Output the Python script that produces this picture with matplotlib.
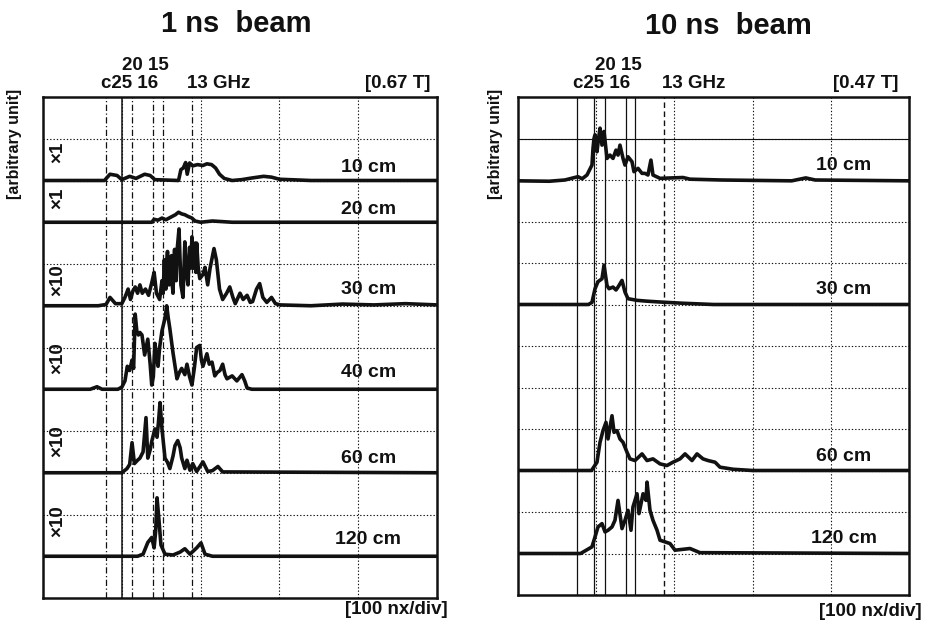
import matplotlib
matplotlib.use("Agg")
import matplotlib.pyplot as plt
import matplotlib.transforms as mtransforms

plt.rcParams['font.family'] = ['Liberation Sans', 'DejaVu Sans']
plt.rcParams['font.weight'] = 'bold'

# ---------------- data (time in ns, amplitude in divisions) ----------------
panel_titles = ["1 ns  beam", "10 ns  beam"]
field_labels = ["[0.67 T]", "[0.47 T]"]
x_unit_label = "[100 nx/div]"
y_unit_label = "[arbitrary unit]"
freq_upper = "20 15"
freq_lower = "c25 16"
freq_13 = "13 GHz"

left_distances = ["10 cm", "20 cm", "30 cm", "40 cm", "60 cm", "120 cm"]
left_gains = ["×1", "×1", "×10", "×10", "×10", "×10"]
left_baseline_div = [10, 9, 7, 5, 3, 1]

right_distances = ["10 cm", "30 cm", "60 cm", "120 cm"]
right_baseline_div = [10, 7, 3, 1]

# cut-off markers (c, 25, 20, 16, 15, 13 GHz) in ns
left_markers = [80, 100, 113, 140, 152, 189]
right_markers = [75.4, 97.2, 111.3, 138.1, 149.6, 186.7]

L10_t = [0, 78, 85, 94, 100, 110, 118, 129, 136, 142, 172, 175, 178, 181, 183, 186, 190, 196, 203, 208, 214, 219, 224, 230, 240, 252, 265, 280, 290, 300, 340, 500]
L10_a = [0, 0, 0.15, 0.12, 0.02, 0.1, 0.05, 0.15, 0.12, 0.02, 0.0, 0.26, 0.3, 0.43, 0.15, 0.42, 0.35, 0.38, 0.36, 0.4, 0.38, 0.3, 0.15, 0.05, 0.0, 0.02, 0.06, 0.1, 0.08, 0.03, 0, 0]

L20_t = [0, 138, 141, 146, 151, 156, 162, 168, 172, 176, 180, 184, 189, 193, 200, 215, 240, 500]
L20_a = [0, 0, 0.07, 0.05, 0.1, 0.06, 0.12, 0.18, 0.24, 0.2, 0.18, 0.14, 0.1, 0.03, 0, 0.03, 0, 0]

L30_t = [0, 70, 80, 85, 92, 100, 104, 108, 111, 114, 117, 120, 123, 126, 130, 134, 138, 141, 144, 148, 151, 152.5, 154, 155, 156, 157, 158, 159, 160, 161.5, 163, 164, 165, 166, 167, 168, 169, 170, 171, 172.6, 175, 177.7, 180, 182, 184, 186, 187.5, 189, 190, 191, 192, 193, 194, 195, 196, 197, 199, 203, 205.6, 209, 212, 217, 220, 224, 228, 233, 237, 241, 244, 250, 254, 259, 263, 266, 271, 275, 279, 284, 290, 295, 301, 340, 380, 420, 460, 500]
L30_a = [0, 0, 0.03, 0.2, 0.05, 0.05, 0.2, 0.4, 0.15, 0.35, 0.45, 0.3, 0.5, 0.3, 0.4, 0.25, 0.55, 0.8, 0.3, 0.15, 0.6, 0.3, 1.1, 0.5, 0.4, 1.0, 1.3, 0.6, 0.5, 1.1, 1.2, 0.5, 0.3, 1.0, 1.35, 0.7, 0.6, 1.3, 1.5, 1.84, 0.5, 0.2, 1.53, 0.8, 0.5, 1.4, 0.9, 1.65, 1.0, 0.9, 1.4, 1.5, 0.8, 1.5, 1.2, 0.9, 0.65, 0.75, 0.92, 0.5, 0.9, 1.37, 1.1, 0.4, 0.15, 0.3, 0.45, 0.2, 0.05, 0.3, 0.15, 0.25, 0.08, 0.1, 0.4, 0.53, 0.2, 0.08, 0.2, 0.05, 0.02, 0, 0.04, 0.02, 0.05, 0.02]

L40_t = [0, 60, 68.5, 75, 95, 100, 104, 107, 110, 113, 115, 117, 119, 121, 123, 125.6, 129, 133, 136, 138, 140, 142, 144, 146, 148, 151, 154.8, 157, 159, 161, 165, 168, 170, 173, 176, 180, 182.7, 186, 189, 192, 195, 199, 201, 203, 208, 211, 214.5, 218, 221, 224.6, 228, 231, 233.5, 240, 246, 252.5, 256, 259, 265, 500]
L40_a = [0, 0, 0.06, 0, 0, 0.05, 0.2, 0.55, 0.45, 0.7, 0.5, 1.8, 1.4, 1.3, 1.36, 1.3, 0.82, 1.2, 0.6, 0.1, 0.3, 1.1, 0.8, 0.55, 1.0, 1.4, 1.7, 2.0, 1.7, 1.45, 0.87, 0.5, 0.25, 0.4, 0.5, 0.35, 0.6, 0.3, 0.1, 0.5, 1.0, 1.05, 0.7, 0.55, 0.85, 0.6, 0.65, 0.32, 0.4, 0.45, 0.6, 0.35, 0.25, 0.32, 0.2, 0.35, 0.2, 0.03, 0, 0]

L60_t = [0, 100, 106.6, 110, 113, 116, 120, 123, 127, 130.7, 133, 136, 138, 142, 144.7, 146.5, 148.5, 151, 154.8, 158, 161, 165, 167.5, 171, 174, 176, 180, 182.7, 186.5, 190, 195, 203, 209, 215, 222, 228, 500]
L60_a = [0, 0, 0.1, 0.2, 0.72, 0.22, 0.3, 0.35, 0.5, 1.32, 0.35, 0.55, 0.75, 1.05, 0.85, 1.2, 1.68, 1.05, 0.35, 0.25, 0.1, 0.4, 0.65, 0.77, 0.6, 0.35, 0.1, 0.3, 0.06, 0.22, 0.03, 0.26, 0.03, 0.05, 0.15, 0.02, 0]

L120_t = [0, 120, 127, 133, 138, 141, 143, 144.7, 147, 149.7, 154.8, 165, 174, 180, 186.5, 195, 200.5, 205.6, 215, 500]
L120_a = [0, 0, 0.05, 0.33, 0.45, 0.2, 0.6, 1.4, 0.9, 0.27, 0.05, 0.03, 0.1, 0.18, 0.05, 0.2, 0.32, 0.05, 0, 0]

R10_t = [0, 40, 60, 76.7, 82, 88.2, 94.6, 95.9, 97.2, 98.5, 101, 103, 104.9, 107.4, 110, 113.8, 117.6, 121.5, 125.3, 127.9, 130.4, 134.3, 136.8, 140.7, 145.8, 148.3, 153.5, 158.6, 162.4, 166.2, 170, 172.6, 181.6, 211, 220, 260, 350, 368, 380, 500]
R10_a = [-0.02, -0.03, 0, 0.08, 0.03, 0.12, 0.36, 0.76, 1.0, 1.09, 0.68, 1.0, 1.25, 0.84, 1.17, 0.52, 0.6, 0.52, 0.72, 0.6, 0.84, 0.52, 0.36, 0.56, 0.44, 0.2, 0.28, 0.16, 0.16, 0.12, 0.48, 0.12, 0.04, 0.06, 0.02, 0, -0.02, 0.05, 0, -0.02]

R30_t = [0, 90, 94.6, 98.5, 102.3, 107.4, 110, 113.8, 116.4, 121.5, 125.3, 127.9, 133, 136.8, 140.7, 152.2, 165, 181.6, 211, 250, 500]
R30_a = [0, 0, 0.05, 0.38, 0.55, 0.62, 0.95, 0.46, 0.38, 0.42, 0.35, 0.42, 0.58, 0.3, 0.14, 0.1, 0.08, 0.06, 0.03, 0, 0]

R60_t = [0, 94, 101, 104.9, 108.7, 112.5, 115.1, 120.2, 122.8, 126.6, 130.4, 134.3, 139.4, 143.2, 149.6, 158.6, 165, 172.6, 181.6, 190.5, 198.2, 207.2, 213.6, 222.5, 228.9, 236.6, 243, 252, 258.3, 275, 300, 500]
R60_a = [0, 0, 0.2, 0.68, 0.96, 1.16, 0.76, 1.32, 0.92, 0.96, 0.76, 0.68, 0.44, 0.28, 0.24, 0.4, 0.24, 0.28, 0.16, 0.12, 0.2, 0.28, 0.4, 0.24, 0.4, 0.28, 0.24, 0.2, 0.08, 0.03, 0, 0]

R120_t = [0, 80, 94.6, 98.5, 102.3, 107.4, 111.3, 115.1, 120.2, 124, 127.9, 133, 136.8, 140.7, 144.5, 147, 152.2, 154.7, 159.9, 163.7, 165, 168.8, 172.6, 177.8, 181.6, 188, 194.4, 200.8, 220, 232.7, 500]
R120_a = [0, 0, 0.16, 0.4, 0.64, 0.72, 0.52, 0.56, 0.64, 0.8, 1.28, 0.6, 0.8, 1.04, 0.56, 1.12, 1.44, 0.96, 1.44, 1.28, 1.72, 1.04, 0.8, 0.56, 0.32, 0.28, 0.24, 0.08, 0.12, 0.02, 0]

left_traces = [(L10_t, L10_a), (L20_t, L20_a), (L30_t, L30_a), (L40_t, L40_a), (L60_t, L60_a), (L120_t, L120_a)]
right_traces = [(R10_t, R10_a), (R30_t, R30_a), (R60_t, R60_a), (R120_t, R120_a)]

# ---------------- figure ----------------
W, H = 929, 624
fig = plt.figure(figsize=(W / 100, H / 100), dpi=100)
fig.patch.set_facecolor("white")

axL = fig.add_axes([43 / W, 1 - 598 / H, 394 / W, 501 / H])
axR = fig.add_axes([518 / W, 1 - 595 / H, 391 / W, 498 / H])

INK = "#111111"
grid_style = dict(color=INK, lw=0.8, ls=(0, (1.2, 1.8)), zorder=1)


def setup(ax):
    ax.set_xlim(0, 500)
    ax.set_ylim(0, 12)
    ax.set_xticks([])
    ax.set_yticks([])
    for s in ax.spines.values():
        s.set_linewidth(1.8)
        s.set_color(INK)
    for xv in range(100, 500, 100):
        ax.axvline(xv, **grid_style)
    for yv in range(1, 12):
        ax.axhline(yv, **grid_style)


setup(axL)
setup(axR)

# marker lines
for i, m in enumerate(left_markers):
    if i == 1:
        axL.axvline(m, color=INK, lw=1.1, zorder=2)
    else:
        axL.axvline(m, color=INK, lw=0.9, ls=(0, (5, 2, 1, 2)), zorder=2)
for i, m in enumerate(right_markers):
    if i == 5:
        axR.axvline(m, color=INK, lw=1.0, ls=(0, (4, 2.5)), zorder=2)
    else:
        axR.axvline(m, color=INK, lw=0.9, zorder=2)
axR.axhline(11, color=INK, lw=0.8, zorder=2)

# traces
for (t, a), b in zip(left_traces, left_baseline_div):
    axL.plot(t, [b + v for v in a], color=INK, lw=2.6, zorder=3,
             solid_joinstyle="round")
for (t, a), b in zip(right_traces, right_baseline_div):
    axR.plot(t, [b + v for v in a], color=INK, lw=2.6, zorder=3,
             solid_joinstyle="round")

# distance labels
left_lab_y = [10.32, 9.31, 7.38, 5.41, 3.35, 1.39]
for lab, yv in zip(left_distances, left_lab_y):
    axL.text(413, yv, lab, ha="center", va="center", fontsize=14, color=INK, zorder=4)
right_lab_y = [10.36, 7.35, 3.33, 1.37]
for lab, yv in zip(right_distances, right_lab_y):
    axR.text(417, yv, lab, ha="center", va="center", fontsize=14, color=INK, zorder=4)

# gain labels
gain_y = [10.68, 9.58, 7.62, 5.75, 3.76, 1.84]
for lab, yv in zip(left_gains, gain_y):
    axL.text(19, yv, lab, ha="center", va="center", rotation=90, fontsize=13.5, color=INK, zorder=4)

# titles
fig.text(236 / W, 1 - 24 / H, panel_titles[0], ha="center", va="center", fontsize=21, color=INK)
fig.text(728 / W, 1 - 26.5 / H, panel_titles[1], ha="center", va="center", fontsize=21, color=INK)


# frequency labels above panels
def freq_labels(ax, x_upper, x_lower, x_13, x_field_right, field):
    tr = mtransforms.blended_transform_factory(ax.transData, fig.transFigure)
    yl = 1 - 83.5 / H
    yu = 1 - 65 / H
    fs = 13.5
    ax.text(x_lower, yl, freq_lower, transform=tr, ha="left", va="center", fontsize=fs, color=INK)
    ax.text(x_13, yl, freq_13, transform=tr, ha="left", va="center", fontsize=fs, color=INK)
    ax.text(x_upper, yu, freq_upper, transform=tr, ha="left", va="center", fontsize=fs, color=INK)
    ax.text(x_field_right, yl, field, transform=tr, ha="right", va="center", fontsize=13.5, color=INK)


freq_labels(axL, 100, 73.6, 183, 491, field_labels[0])
freq_labels(axR, 98.5, 70.3, 184, 486, field_labels[1])

# bottom unit labels
fig.text(448 / W, 1 - 609.5 / H, x_unit_label, ha="right", va="center", fontsize=13.5, color=INK)
fig.text(922 / W, 1 - 611 / H, x_unit_label, ha="right", va="center", fontsize=13.5, color=INK)

# y unit labels
fig.text(15 / W, 1 - 144 / H, y_unit_label, ha="center", va="center", rotation=90, fontsize=11.5, color=INK)
fig.text(496 / W, 1 - 144 / H, y_unit_label, ha="center", va="center", rotation=90, fontsize=11.5, color=INK)

fig.savefig("out.png", dpi=100, facecolor="white")
